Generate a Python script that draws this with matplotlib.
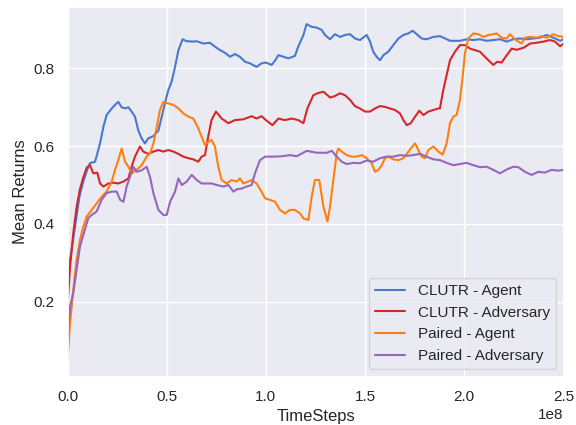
import numpy as np
import matplotlib
matplotlib.use("Agg")
import matplotlib.pyplot as plt
import seaborn as sns

# x in units of 1e8 timesteps
clutr_agent_t = [0.0, 0.01, 0.02, 0.04, 0.06, 0.08, 0.10, 0.113, 0.139, 0.164, 0.181, 0.197, 0.223, 0.239, 0.256, 0.273, 0.29, 0.307, 0.323, 0.34, 0.357, 0.374, 0.39, 0.407, 0.433, 0.458, 0.475, 0.491, 0.508, 0.525, 0.542, 0.559, 0.58, 0.60, 0.634, 0.651, 0.685, 0.718, 0.743, 0.769, 0.794, 0.819, 0.844, 0.869, 0.895, 0.92, 0.953, 0.978, 1.0, 1.029, 1.046, 1.063, 1.088, 1.113, 1.146, 1.163, 1.189, 1.205, 1.231, 1.256, 1.281, 1.298, 1.323, 1.348, 1.374, 1.399, 1.424, 1.449, 1.474, 1.508, 1.525, 1.541, 1.558, 1.575, 1.592, 1.617, 1.642, 1.668, 1.693, 1.718, 1.74, 1.76, 1.785, 1.81, 1.844, 1.878, 1.903, 1.928, 1.961, 1.978, 2.012, 2.046, 2.079, 2.113, 2.146, 2.18, 2.214, 2.247, 2.281, 2.315, 2.348, 2.382, 2.415, 2.449, 2.483, 2.5]
clutr_agent_v = [0.22, 0.30, 0.33, 0.40, 0.47, 0.51, 0.54, 0.556, 0.56, 0.607, 0.65, 0.68, 0.697, 0.706, 0.714, 0.70, 0.697, 0.70, 0.689, 0.676, 0.64, 0.62, 0.607, 0.62, 0.626, 0.64, 0.676, 0.71, 0.744, 0.766, 0.804, 0.847, 0.875, 0.87, 0.869, 0.87, 0.864, 0.866, 0.856, 0.847, 0.84, 0.83, 0.837, 0.83, 0.817, 0.813, 0.804, 0.813, 0.815, 0.809, 0.82, 0.834, 0.83, 0.826, 0.832, 0.856, 0.886, 0.914, 0.907, 0.905, 0.899, 0.886, 0.875, 0.888, 0.881, 0.886, 0.888, 0.877, 0.873, 0.886, 0.869, 0.843, 0.83, 0.821, 0.834, 0.843, 0.86, 0.877, 0.886, 0.89, 0.897, 0.888, 0.877, 0.875, 0.881, 0.883, 0.877, 0.871, 0.871, 0.871, 0.875, 0.873, 0.875, 0.871, 0.873, 0.875, 0.869, 0.875, 0.877, 0.875, 0.877, 0.879, 0.886, 0.879, 0.871, 0.875]

clutr_adv_t = [0.0, 0.013, 0.029, 0.046, 0.063, 0.08, 0.097, 0.113, 0.13, 0.15, 0.164, 0.181, 0.206, 0.231, 0.256, 0.282, 0.307, 0.323, 0.34, 0.365, 0.382, 0.407, 0.433, 0.458, 0.483, 0.508, 0.534, 0.559, 0.584, 0.609, 0.634, 0.659, 0.676, 0.693, 0.709, 0.726, 0.748, 0.777, 0.811, 0.844, 0.886, 0.928, 0.953, 0.978, 1.0, 1.033, 1.063, 1.096, 1.13, 1.163, 1.189, 1.209, 1.239, 1.264, 1.29, 1.315, 1.323, 1.348, 1.374, 1.399, 1.424, 1.449, 1.474, 1.5, 1.525, 1.55, 1.575, 1.6, 1.625, 1.651, 1.676, 1.693, 1.71, 1.73, 1.752, 1.773, 1.794, 1.819, 1.844, 1.869, 1.877, 1.894, 1.911, 1.928, 1.953, 1.978, 2.003, 2.029, 2.054, 2.079, 2.104, 2.13, 2.146, 2.166, 2.188, 2.214, 2.239, 2.264, 2.298, 2.332, 2.365, 2.399, 2.432, 2.457, 2.483, 2.5]
clutr_adv_v = [0.19, 0.29, 0.376, 0.444, 0.49, 0.52, 0.545, 0.551, 0.53, 0.532, 0.504, 0.496, 0.504, 0.506, 0.504, 0.509, 0.517, 0.547, 0.573, 0.599, 0.586, 0.58, 0.586, 0.59, 0.586, 0.59, 0.586, 0.58, 0.573, 0.569, 0.566, 0.56, 0.573, 0.577, 0.624, 0.667, 0.689, 0.671, 0.659, 0.667, 0.669, 0.677, 0.671, 0.677, 0.667, 0.654, 0.671, 0.667, 0.671, 0.667, 0.659, 0.697, 0.731, 0.737, 0.74, 0.729, 0.725, 0.729, 0.736, 0.731, 0.719, 0.703, 0.697, 0.689, 0.689, 0.697, 0.703, 0.701, 0.697, 0.693, 0.684, 0.667, 0.654, 0.659, 0.676, 0.691, 0.68, 0.689, 0.693, 0.697, 0.697, 0.744, 0.783, 0.821, 0.843, 0.86, 0.86, 0.851, 0.847, 0.843, 0.83, 0.817, 0.809, 0.817, 0.815, 0.834, 0.851, 0.848, 0.853, 0.864, 0.866, 0.869, 0.873, 0.869, 0.857, 0.864]

paired_agent_t = [0.0, 0.013, 0.029, 0.046, 0.063, 0.08, 0.097, 0.122, 0.147, 0.172, 0.197, 0.223, 0.239, 0.256, 0.273, 0.29, 0.307, 0.323, 0.349, 0.374, 0.399, 0.416, 0.433, 0.45, 0.466, 0.483, 0.508, 0.534, 0.559, 0.584, 0.609, 0.634, 0.659, 0.676, 0.693, 0.709, 0.726, 0.743, 0.76, 0.777, 0.802, 0.827, 0.853, 0.869, 0.886, 0.911, 0.928, 0.953, 0.978, 0.995, 1.02, 1.046, 1.071, 1.096, 1.121, 1.146, 1.172, 1.189, 1.214, 1.231, 1.247, 1.269, 1.29, 1.31, 1.323, 1.34, 1.357, 1.365, 1.382, 1.407, 1.433, 1.458, 1.483, 1.508, 1.533, 1.55, 1.567, 1.584, 1.6, 1.617, 1.642, 1.668, 1.693, 1.713, 1.73, 1.752, 1.768, 1.785, 1.802, 1.819, 1.844, 1.869, 1.891, 1.911, 1.928, 1.945, 1.961, 1.978, 1.992, 2.003, 2.02, 2.046, 2.071, 2.096, 2.121, 2.146, 2.163, 2.188, 2.214, 2.23, 2.256, 2.272, 2.289, 2.306, 2.332, 2.365, 2.39, 2.415, 2.449, 2.474, 2.5]
paired_agent_v = [0.05, 0.145, 0.23, 0.308, 0.359, 0.393, 0.419, 0.436, 0.453, 0.47, 0.483, 0.509, 0.538, 0.564, 0.594, 0.56, 0.547, 0.53, 0.539, 0.551, 0.573, 0.581, 0.607, 0.65, 0.693, 0.714, 0.71, 0.706, 0.697, 0.684, 0.676, 0.671, 0.646, 0.624, 0.603, 0.611, 0.616, 0.599, 0.547, 0.513, 0.504, 0.513, 0.509, 0.517, 0.504, 0.509, 0.513, 0.504, 0.483, 0.466, 0.462, 0.457, 0.436, 0.427, 0.436, 0.436, 0.427, 0.414, 0.41, 0.47, 0.513, 0.513, 0.444, 0.406, 0.444, 0.513, 0.582, 0.594, 0.586, 0.577, 0.573, 0.573, 0.577, 0.569, 0.556, 0.534, 0.539, 0.551, 0.569, 0.573, 0.566, 0.564, 0.569, 0.582, 0.594, 0.607, 0.59, 0.573, 0.569, 0.59, 0.599, 0.586, 0.578, 0.607, 0.659, 0.676, 0.68, 0.719, 0.779, 0.839, 0.877, 0.89, 0.888, 0.881, 0.886, 0.888, 0.89, 0.879, 0.877, 0.888, 0.875, 0.869, 0.864, 0.879, 0.881, 0.879, 0.883, 0.879, 0.888, 0.883, 0.881]

paired_adv_t = [0.0, 0.013, 0.029, 0.046, 0.063, 0.08, 0.105, 0.122, 0.147, 0.172, 0.197, 0.223, 0.248, 0.265, 0.282, 0.298, 0.315, 0.332, 0.349, 0.374, 0.399, 0.416, 0.433, 0.458, 0.483, 0.5, 0.517, 0.542, 0.559, 0.576, 0.601, 0.626, 0.651, 0.676, 0.701, 0.727, 0.752, 0.786, 0.811, 0.836, 0.853, 0.878, 0.903, 0.928, 0.945, 0.97, 0.996, 1.038, 1.08, 1.122, 1.155, 1.206, 1.256, 1.307, 1.332, 1.357, 1.382, 1.407, 1.441, 1.474, 1.508, 1.541, 1.575, 1.609, 1.642, 1.676, 1.71, 1.743, 1.777, 1.81, 1.844, 1.878, 1.911, 1.945, 1.978, 2.012, 2.046, 2.079, 2.113, 2.146, 2.18, 2.214, 2.247, 2.272, 2.306, 2.339, 2.373, 2.406, 2.44, 2.474, 2.5]
paired_adv_v = [0.11, 0.188, 0.222, 0.282, 0.342, 0.372, 0.415, 0.423, 0.432, 0.462, 0.479, 0.483, 0.483, 0.462, 0.457, 0.496, 0.521, 0.547, 0.534, 0.538, 0.547, 0.521, 0.479, 0.436, 0.423, 0.423, 0.457, 0.483, 0.517, 0.5, 0.509, 0.526, 0.513, 0.504, 0.504, 0.504, 0.5, 0.496, 0.5, 0.483, 0.489, 0.491, 0.496, 0.5, 0.53, 0.564, 0.573, 0.573, 0.574, 0.577, 0.574, 0.588, 0.583, 0.583, 0.588, 0.573, 0.56, 0.554, 0.557, 0.556, 0.563, 0.56, 0.569, 0.573, 0.573, 0.577, 0.575, 0.577, 0.58, 0.573, 0.566, 0.564, 0.557, 0.551, 0.554, 0.557, 0.551, 0.546, 0.547, 0.539, 0.53, 0.54, 0.547, 0.546, 0.534, 0.526, 0.534, 0.532, 0.539, 0.537, 0.539]

labels = ["CLUTR - Agent", "CLUTR - Adversary", "Paired - Agent", "Paired - Adversary"]
colors = ["#4878d0", "#d62728", "#ff7f0e", "#9467bd"]

sns.set_theme(style="darkgrid")
plt.rcParams['font.family'] = ['Liberation Sans', 'DejaVu Sans']

fig = plt.figure(figsize=(5.76, 4.25), dpi=100)
ax = fig.add_axes([0.1172, 0.1136, 0.8611, 0.8692])

series = [(clutr_agent_t, clutr_agent_v), (clutr_adv_t, clutr_adv_v),
          (paired_agent_t, paired_agent_v), (paired_adv_t, paired_adv_v)]
for (t, v), lab, c in zip(series, labels, colors):
    ax.plot(np.array(t) * 1e8, v, color=c, lw=1.5, label=lab)

ax.set_xlim(0, 2.5e8)
ax.set_xlabel("TimeSteps")
ax.set_ylabel("Mean Returns")
ax.legend(loc="lower right")

fig.savefig("out.png", dpi=100)
